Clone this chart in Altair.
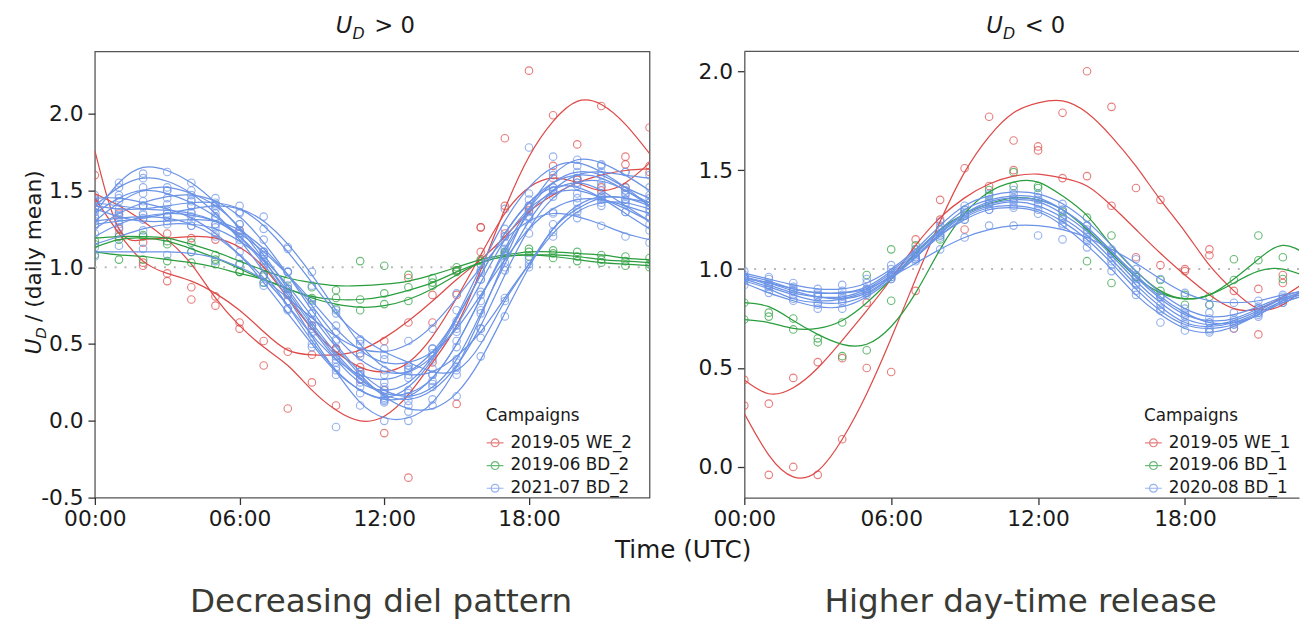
import altair as alt
import pandas as pd

FONT = "DejaVu Sans"
HOURS = list(range(24))

LEFT_CAMPAIGNS = ["2019-05 WE_2", "2019-06 BD_2", "2021-07 BD_2"]
RIGHT_CAMPAIGNS = ["2019-05 WE_1", "2019-06 BD_1", "2020-08 BD_1"]
CAMPAIGN_COLORS = ["#DD4A48", "#2A9E3E", "#6B93E6"]
REF_LEVEL = [1.0]

# ---------------- left panel (U_D > 0) ----------------
L_RED_A_FIT = [1.76,1.25,1.18,1.19,1.2,1.19,1.13,1.0,0.8,0.6,0.45,0.35,0.32,0.38,0.55,0.8,1.08,1.35,1.52,1.58,1.55,1.5,1.55,1.68]
L_RED_A_OBS = [1.60,1.20,1.16,1.22,1.19,1.18,1.24,0.95,0.82,0.62,0.47,0.35,0.2,0.93,0.64,0.82,1.26,1.40,1.37,1.66,1.57,1.52,1.67,1.62]
L_RED_B_FIT = [1.45,1.22,1.04,0.96,0.91,0.83,0.72,0.58,0.46,0.43,0.43,0.46,0.54,0.65,0.78,0.92,1.05,1.2,1.36,1.47,1.55,1.6,1.63,1.64]
L_RED_B_OBS = [1.42,1.25,1.03,0.96,0.87,0.81,0.64,0.52,0.45,0.43,0.47,0.44,0.52,0.64,0.82,0.98,1.1,1.22,1.39,1.58,1.57,1.5,1.52,1.66]
L_RED_C_FIT = [1.48,1.4,1.3,1.18,1.02,0.8,0.62,0.48,0.36,0.2,0.07,0.0,0.03,0.17,0.38,0.62,0.98,1.38,1.72,1.95,2.08,2.06,1.93,1.74]
L_RED_C_OBS = [1.45,1.35,1.01,0.91,0.79,0.75,0.60,0.36,0.08,0.25,0.1,0.27,-0.08,-0.37,0.38,0.11,1.26,1.84,2.28,1.99,1.80,2.05,1.72,1.91]

L_GREEN_A_FIT = [1.19,1.2,1.2,1.19,1.15,1.1,1.04,0.98,0.93,0.9,0.88,0.88,0.89,0.91,0.95,1.0,1.05,1.08,1.1,1.1,1.09,1.08,1.06,1.05]
L_GREEN_A_OBS = [1.17,1.18,1.21,1.17,1.16,1.08,1.02,0.95,0.92,0.87,0.85,1.04,1.01,0.95,0.93,1.0,1.04,1.1,1.12,1.11,1.1,1.08,1.07,1.06]
L_GREEN_B_FIT = [1.13,1.18,1.19,1.17,1.12,1.06,0.99,0.92,0.86,0.81,0.79,0.79,0.81,0.85,0.9,0.97,1.03,1.07,1.08,1.08,1.07,1.05,1.04,1.03]
L_GREEN_B_OBS = [1.15,1.2,1.2,1.15,1.1,1.05,0.97,0.94,0.86,0.8,0.8,0.79,0.83,0.87,0.9,0.98,1.05,1.09,1.1,1.09,1.07,1.05,1.04,1.02]
L_GREEN_C_FIT = [1.1,1.08,1.07,1.05,1.03,1.0,0.96,0.92,0.86,0.8,0.76,0.74,0.75,0.79,0.86,0.95,1.03,1.07,1.08,1.07,1.05,1.03,1.02,1.01]
L_GREEN_C_OBS = [1.08,1.05,1.05,1.04,1.03,1.02,0.97,0.9,0.83,0.79,0.73,0.72,0.76,0.78,0.88,0.97,1.02,1.08,1.07,1.06,1.04,1.03,1.01,1.0]

L_BLUE_01_FIT = [1.35,1.55,1.65,1.63,1.55,1.42,1.25,1.05,0.82,0.6,0.4,0.25,0.2,0.25,0.42,0.68,1.0,1.3,1.52,1.65,1.68,1.62,1.52,1.4]
L_BLUE_01_OBS = [1.38,1.52,1.61,1.62,1.55,1.38,1.28,1.08,0.78,0.62,0.35,0.27,0.2,0.3,0.4,0.72,0.98,1.38,1.78,1.72,1.66,1.67,1.48,1.42]
L_BLUE_02_FIT = [1.4,1.52,1.58,1.56,1.48,1.35,1.18,0.97,0.75,0.52,0.33,0.2,0.15,0.22,0.4,0.66,0.95,1.22,1.42,1.55,1.6,1.58,1.5,1.42]
L_BLUE_02_OBS = [1.42,1.55,1.58,1.52,1.5,1.33,1.2,1.0,0.73,0.5,0.3,0.22,0.13,0.2,0.42,0.62,0.92,1.25,1.48,1.6,1.58,1.55,1.52,1.45]
L_BLUE_03_FIT = [1.3,1.42,1.5,1.52,1.48,1.4,1.26,1.08,0.86,0.64,0.44,0.28,0.18,0.18,0.28,0.5,0.8,1.12,1.38,1.55,1.62,1.6,1.52,1.45]
L_BLUE_03_OBS = [1.32,1.45,1.52,1.5,1.47,1.42,1.28,1.1,0.88,0.66,0.42,0.25,0.18,0.16,0.3,0.48,0.82,1.1,1.4,1.52,1.62,1.62,1.5,1.47]
L_BLUE_04_FIT = [1.25,1.35,1.42,1.46,1.47,1.43,1.33,1.16,0.95,0.72,0.5,0.32,0.2,0.16,0.22,0.4,0.7,1.02,1.3,1.5,1.6,1.62,1.6,1.58]
L_BLUE_04_OBS = [1.27,1.33,1.4,1.45,1.44,1.45,1.35,1.18,0.97,0.7,0.52,0.3,0.22,0.13,0.24,0.38,0.72,1.0,1.33,1.48,1.58,1.6,1.62,1.6]
L_BLUE_05_FIT = [1.42,1.4,1.38,1.37,1.35,1.3,1.2,1.04,0.84,0.62,0.42,0.27,0.17,0.14,0.2,0.36,0.62,0.95,1.25,1.45,1.55,1.56,1.5,1.4]
L_BLUE_05_OBS = [1.44,1.38,1.4,1.35,1.36,1.28,1.22,1.02,0.86,0.6,0.4,0.3,0.15,0.1,0.22,0.35,0.6,0.98,1.22,1.46,1.55,1.53,1.5,1.38]
L_BLUE_06_FIT = [1.38,1.33,1.3,1.3,1.31,1.3,1.24,1.12,0.95,0.75,0.55,0.4,0.32,0.32,0.42,0.62,0.9,1.18,1.38,1.48,1.5,1.45,1.38,1.3]
L_BLUE_06_OBS = [1.36,1.3,1.32,1.28,1.3,1.32,1.22,1.1,0.97,0.78,0.53,0.42,0.3,0.34,0.44,0.6,0.92,1.2,1.36,1.5,1.48,1.46,1.36,1.32]
L_BLUE_07_FIT = [1.3,1.32,1.33,1.32,1.28,1.2,1.08,0.93,0.75,0.56,0.4,0.3,0.27,0.32,0.45,0.67,0.95,1.22,1.42,1.52,1.52,1.45,1.35,1.25]
L_BLUE_07_OBS = [1.28,1.34,1.31,1.33,1.27,1.22,1.06,0.95,0.73,0.58,0.38,0.32,0.25,0.33,0.47,0.65,0.97,1.2,1.44,1.5,1.53,1.44,1.36,1.24]
L_BLUE_08_FIT = [1.45,1.45,1.42,1.38,1.32,1.22,1.08,0.9,0.7,0.5,0.32,0.2,0.14,0.16,0.28,0.5,0.8,1.1,1.35,1.5,1.55,1.5,1.4,1.3]
L_BLUE_08_OBS = [1.47,1.43,1.43,1.37,1.33,1.2,1.1,0.88,0.72,0.48,0.33,0.18,0.12,0.18,0.26,0.52,0.78,1.12,1.33,1.52,1.55,1.48,1.42,1.28]
L_BLUE_09_FIT = [1.2,1.28,1.33,1.35,1.34,1.3,1.22,1.1,0.95,0.78,0.6,0.46,0.38,0.38,0.45,0.6,0.82,1.05,1.25,1.38,1.44,1.44,1.4,1.35]
L_BLUE_09_OBS = [1.22,1.26,1.35,1.33,1.35,1.28,1.24,1.08,0.97,0.76,0.62,0.44,0.4,0.36,0.47,0.58,0.84,1.03,1.27,1.36,1.45,1.42,1.41,1.33]
L_BLUE_10_FIT = [1.15,1.2,1.25,1.28,1.28,1.25,1.17,1.05,0.88,0.68,0.48,0.3,0.16,0.08,0.08,0.18,0.4,0.7,1.0,1.25,1.4,1.46,1.45,1.42]
L_BLUE_10_OBS = [1.13,1.22,1.24,1.3,1.27,1.26,1.15,1.07,0.86,0.7,0.46,0.32,0.14,0.06,0.1,0.16,0.42,0.68,1.02,1.23,1.42,1.45,1.47,1.4]
L_BLUE_11_FIT = [1.1,1.1,1.1,1.1,1.09,1.06,1.0,0.92,0.8,0.67,0.55,0.47,0.45,0.5,0.62,0.8,1.0,1.18,1.3,1.35,1.33,1.28,1.22,1.18]
L_BLUE_11_OBS = [1.07,1.14,1.12,1.08,1.1,1.04,1.02,0.9,0.82,0.65,0.58,0.5,0.43,0.52,0.6,0.83,1.02,1.16,1.32,1.35,1.32,1.27,1.2,1.16]
L_BLUE_12_FIT = [1.35,1.45,1.5,1.48,1.42,1.33,1.2,1.02,0.8,0.55,0.32,0.12,0.02,0.02,0.12,0.35,0.68,1.05,1.38,1.6,1.7,1.68,1.6,1.5]
L_BLUE_12_OBS = [1.33,1.47,1.48,1.5,1.4,1.35,1.18,1.04,0.78,0.57,-0.04,0.1,0.0,0.0,0.14,0.33,0.7,1.07,1.4,1.62,1.7,1.66,1.62,1.52]
L_BLUE_13_FIT = [1.28,1.3,1.32,1.35,1.38,1.4,1.38,1.3,1.15,0.95,0.72,0.5,0.35,0.3,0.32,0.42,0.58,0.8,1.02,1.22,1.36,1.42,1.42,1.38]
L_BLUE_13_OBS = [1.3,1.28,1.34,1.33,1.4,1.41,1.36,1.33,1.13,0.97,0.7,0.52,0.33,0.28,0.34,0.4,0.6,0.78,1.05,1.2,1.38,1.4,1.44,1.36]
L_BLUE_14_FIT = [1.4,1.38,1.38,1.4,1.42,1.42,1.38,1.27,1.1,0.9,0.7,0.55,0.45,0.38,0.32,0.33,0.5,0.78,1.02,1.25,1.38,1.45,1.45,1.4]
L_BLUE_14_OBS = [1.42,1.36,1.4,1.41,1.43,1.4,1.4,1.25,1.12,0.88,0.72,0.53,0.47,0.36,0.3,0.3,0.54,0.8,1.0,1.28,1.36,1.46,1.44,1.42]

# ---------------- right panel (U_D < 0) ----------------
R_RED_A_FIT = [0.27,0.06,-0.05,-0.02,0.14,0.37,0.65,0.95,1.24,1.49,1.67,1.79,1.84,1.85,1.79,1.67,1.52,1.35,1.19,1.02,0.89,0.8,0.82,0.92]
R_RED_A_OBS = [0.31,-0.04,0.0,-0.04,0.14,0.5,0.48,0.89,1.35,1.51,1.77,1.65,1.62,1.79,2.0,1.82,1.41,1.35,1.0,1.07,0.7,0.67,0.97,0.95]
R_RED_B_FIT = [0.44,0.37,0.4,0.5,0.64,0.79,0.95,1.12,1.26,1.36,1.43,1.47,1.48,1.46,1.42,1.32,1.2,1.08,0.97,0.87,0.8,0.8,0.86,0.94]
R_RED_B_OBS = [0.44,0.32,0.45,0.53,0.55,0.83,0.97,1.15,1.25,1.2,1.42,1.5,1.6,1.46,1.47,1.32,1.06,1.02,0.99,1.1,0.89,0.9,0.93,0.96]

R_GREEN_A_FIT = [0.83,0.81,0.74,0.67,0.62,0.62,0.71,0.88,1.1,1.28,1.39,1.44,1.44,1.37,1.27,1.12,0.99,0.89,0.85,0.87,0.95,1.05,1.12,1.07]
R_GREEN_A_OBS = [0.83,0.78,0.75,0.63,0.56,0.59,0.84,1.12,1.15,1.3,1.4,1.49,1.42,1.29,1.26,1.17,0.96,0.945,0.87,0.82,1.05,1.17,1.06,1.05]
R_GREEN_B_FIT = [0.745,0.73,0.7,0.7,0.74,0.83,0.95,1.08,1.2,1.28,1.33,1.36,1.35,1.3,1.2,1.08,0.96,0.88,0.85,0.87,0.93,0.99,1.0,0.96]
R_GREEN_B_OBS = [0.745,0.76,0.695,0.65,0.73,0.97,1.1,1.1,1.2,1.27,1.37,1.42,1.41,1.26,1.04,0.93,0.96,0.89,0.82,0.86,0.945,1.045,0.95,0.98]

R_BLUE_1_FIT = [0.98,0.95,0.92,0.9,0.9,0.93,1.0,1.1,1.22,1.32,1.37,1.39,1.38,1.33,1.24,1.12,0.99,0.88,0.8,0.76,0.77,0.81,0.86,0.9]
R_BLUE_1_OBS = [0.99,0.96,0.93,0.9,0.92,0.95,1.02,1.1,1.24,1.32,1.38,1.4,1.38,1.33,1.22,1.1,1.0,0.87,0.8,0.78,0.78,0.8,0.87,0.9]
R_BLUE_2_FIT = [0.97,0.94,0.9,0.88,0.88,0.91,0.99,1.09,1.2,1.3,1.35,1.37,1.36,1.3,1.21,1.09,0.96,0.85,0.77,0.74,0.75,0.8,0.85,0.89]
R_BLUE_2_OBS = [0.96,0.95,0.91,0.87,0.89,0.93,1.0,1.08,1.22,1.3,1.35,1.38,1.36,1.3,1.2,1.08,0.95,0.86,0.77,0.75,0.74,0.81,0.85,0.89]
R_BLUE_3_FIT = [0.96,0.92,0.88,0.86,0.86,0.9,0.98,1.08,1.19,1.28,1.33,1.35,1.34,1.28,1.19,1.07,0.94,0.83,0.75,0.72,0.74,0.79,0.85,0.89]
R_BLUE_3_OBS = [0.97,0.92,0.89,0.86,0.86,0.9,0.98,1.07,1.2,1.29,1.33,1.34,1.33,1.27,1.18,1.06,0.93,0.82,0.76,0.73,0.75,0.8,0.85,0.88]
R_BLUE_4_FIT = [0.95,0.91,0.87,0.84,0.85,0.89,0.97,1.07,1.18,1.27,1.32,1.34,1.32,1.26,1.17,1.05,0.92,0.81,0.73,0.71,0.73,0.78,0.84,0.88]
R_BLUE_4_OBS = [0.95,0.9,0.87,0.83,0.84,0.88,0.97,1.06,1.17,1.27,1.32,1.35,1.32,1.25,1.16,1.04,0.92,0.8,0.73,0.7,0.72,0.78,0.84,0.88]
R_BLUE_5_FIT = [0.94,0.9,0.85,0.83,0.83,0.87,0.96,1.06,1.17,1.26,1.31,1.32,1.3,1.24,1.15,1.03,0.9,0.79,0.72,0.7,0.72,0.77,0.83,0.87]
R_BLUE_5_OBS = [0.94,0.91,0.85,0.82,0.83,0.88,0.96,1.05,1.17,1.25,1.3,1.32,1.3,1.23,1.14,1.02,0.89,0.79,0.72,0.69,0.72,0.76,0.83,0.87]
R_BLUE_6_FIT = [0.93,0.88,0.84,0.81,0.81,0.86,0.95,1.06,1.17,1.25,1.3,1.31,1.29,1.22,1.12,1.0,0.87,0.77,0.7,0.68,0.71,0.77,0.83,0.87]
R_BLUE_6_OBS = [0.92,0.88,0.84,0.8,0.8,0.87,0.95,1.05,1.16,1.25,1.3,1.31,1.28,1.22,1.11,0.99,0.87,0.73,0.69,0.68,0.7,0.77,0.83,0.86]
R_BLUE_7_FIT = [0.95,0.93,0.9,0.88,0.88,0.9,0.96,1.03,1.1,1.16,1.2,1.22,1.22,1.2,1.16,1.1,1.03,0.95,0.88,0.84,0.83,0.84,0.87,0.89]
R_BLUE_7_OBS = [0.96,0.93,0.9,0.88,0.87,0.9,0.96,1.04,1.1,1.16,1.22,1.22,1.17,1.15,1.15,1.08,1.05,0.95,0.88,0.82,0.83,0.84,0.86,0.9]
R_BLUE_8_FIT = [0.96,0.93,0.89,0.86,0.85,0.88,0.96,1.06,1.18,1.28,1.34,1.36,1.35,1.3,1.21,1.09,0.97,0.86,0.78,0.73,0.73,0.77,0.84,0.88]
R_BLUE_8_OBS = [0.96,0.92,0.89,0.86,0.85,0.89,0.95,1.06,1.18,1.28,1.34,1.36,1.35,1.3,1.22,1.09,0.97,0.86,0.78,0.73,0.73,0.78,0.84,0.88]

# ---------------- texts ----------------
LEFT_TITLE = ["U", "D", "> 0"]
RIGHT_TITLE = ["U", "D", "< 0"]
Y_TITLE = ["U", "D", "/ (daily mean)"]
X_TITLE = ["Time (UTC)"]
CAPTIONS = ["Decreasing diel pattern", "Higher day-time release"]
LEGEND_TITLE = "Campaigns"

LEFT_SERIES = [
    (LEFT_CAMPAIGNS[0], L_RED_A_FIT, L_RED_A_OBS),
    (LEFT_CAMPAIGNS[0], L_RED_B_FIT, L_RED_B_OBS),
    (LEFT_CAMPAIGNS[0], L_RED_C_FIT, L_RED_C_OBS),
    (LEFT_CAMPAIGNS[1], L_GREEN_A_FIT, L_GREEN_A_OBS),
    (LEFT_CAMPAIGNS[1], L_GREEN_B_FIT, L_GREEN_B_OBS),
    (LEFT_CAMPAIGNS[1], L_GREEN_C_FIT, L_GREEN_C_OBS),
    (LEFT_CAMPAIGNS[2], L_BLUE_01_FIT, L_BLUE_01_OBS),
    (LEFT_CAMPAIGNS[2], L_BLUE_02_FIT, L_BLUE_02_OBS),
    (LEFT_CAMPAIGNS[2], L_BLUE_03_FIT, L_BLUE_03_OBS),
    (LEFT_CAMPAIGNS[2], L_BLUE_04_FIT, L_BLUE_04_OBS),
    (LEFT_CAMPAIGNS[2], L_BLUE_05_FIT, L_BLUE_05_OBS),
    (LEFT_CAMPAIGNS[2], L_BLUE_06_FIT, L_BLUE_06_OBS),
    (LEFT_CAMPAIGNS[2], L_BLUE_07_FIT, L_BLUE_07_OBS),
    (LEFT_CAMPAIGNS[2], L_BLUE_08_FIT, L_BLUE_08_OBS),
    (LEFT_CAMPAIGNS[2], L_BLUE_09_FIT, L_BLUE_09_OBS),
    (LEFT_CAMPAIGNS[2], L_BLUE_10_FIT, L_BLUE_10_OBS),
    (LEFT_CAMPAIGNS[2], L_BLUE_11_FIT, L_BLUE_11_OBS),
    (LEFT_CAMPAIGNS[2], L_BLUE_12_FIT, L_BLUE_12_OBS),
    (LEFT_CAMPAIGNS[2], L_BLUE_13_FIT, L_BLUE_13_OBS),
    (LEFT_CAMPAIGNS[2], L_BLUE_14_FIT, L_BLUE_14_OBS),
]
RIGHT_SERIES = [
    (RIGHT_CAMPAIGNS[0], R_RED_A_FIT, R_RED_A_OBS),
    (RIGHT_CAMPAIGNS[0], R_RED_B_FIT, R_RED_B_OBS),
    (RIGHT_CAMPAIGNS[1], R_GREEN_A_FIT, R_GREEN_A_OBS),
    (RIGHT_CAMPAIGNS[1], R_GREEN_B_FIT, R_GREEN_B_OBS),
    (RIGHT_CAMPAIGNS[2], R_BLUE_1_FIT, R_BLUE_1_OBS),
    (RIGHT_CAMPAIGNS[2], R_BLUE_2_FIT, R_BLUE_2_OBS),
    (RIGHT_CAMPAIGNS[2], R_BLUE_3_FIT, R_BLUE_3_OBS),
    (RIGHT_CAMPAIGNS[2], R_BLUE_4_FIT, R_BLUE_4_OBS),
    (RIGHT_CAMPAIGNS[2], R_BLUE_5_FIT, R_BLUE_5_OBS),
    (RIGHT_CAMPAIGNS[2], R_BLUE_6_FIT, R_BLUE_6_OBS),
    (RIGHT_CAMPAIGNS[2], R_BLUE_7_FIT, R_BLUE_7_OBS),
    (RIGHT_CAMPAIGNS[2], R_BLUE_8_FIT, R_BLUE_8_OBS),
]


def to_frame(series):
    rows = []
    for i, (camp, fit, obs) in enumerate(series):
        for h, f, o in zip(HOURS, fit, obs):
            rows.append({"curve": f"c{i:02d}", "campaign": camp, "hour": h, "fit": f, "obs": o})
    return pd.DataFrame(rows)


left_df = to_frame(LEFT_SERIES)
right_df = to_frame(RIGHT_SERIES)
ref_df = pd.DataFrame({"ref": REF_LEVEL})

INK = "#1a1a1a"
FRAME = "#555555"
LEGEND_SYMBOL = "M-1,0L1,0M0.47,0A0.47,0.47,0,1,1,-0.47,0A0.47,0.47,0,1,1,0.47,0"
X_LABELS = "(datum.value < 10 ? '0' : '') + datum.value + ':00'"
Y_LABELS = "replace(format(datum.value, '.1f'), '\u2212', '-')"


def text_layer(txt, x, y, size, angle=0, align="left", italic=False, color=INK):
    kw = dict(font=FONT, fontSize=size, align=align, baseline="alphabetic", color=color)
    if angle:
        kw["angle"] = angle
    if italic:
        kw["fontStyle"] = "italic"
    return alt.Chart(pd.DataFrame({"t": [txt]})).mark_text(**kw).encode(
        text="t:N", x=alt.value(x), y=alt.value(y)
    )


def panel(df, campaigns, xmax, ydom, yticks, legend_x, domain_lines, top_border, extra_texts):
    xscale = alt.Scale(domain=[0, xmax], nice=False, zero=False)
    yscale = alt.Scale(domain=ydom, nice=False, zero=False)
    xaxis = alt.Axis(values=[0, 6, 12, 18], labelExpr=X_LABELS, title=None, grid=False,
                     domain=domain_lines, domainColor=FRAME, domainWidth=1.3,
                     tickColor="#333333", tickSize=7, tickWidth=1.3,
                     labelFont=FONT, labelFontSize=22, labelColor=INK, labelPadding=4,
                     labelFlush=False, labelOverlap=False)
    yaxis = alt.Axis(values=yticks, labelExpr=Y_LABELS, title=None, grid=False,
                     domain=domain_lines, domainColor=FRAME, domainWidth=1.3,
                     tickColor="#333333", tickSize=7, tickWidth=1.3,
                     labelFont=FONT, labelFontSize=22, labelColor=INK, labelPadding=5,
                     labelFlush=False, labelOverlap=False)
    legend = alt.Legend(orient="none", legendX=legend_x, legendY=361, title=LEGEND_TITLE,
                        titleFont=FONT, titleFontSize=17, titleFontWeight="normal",
                        titleColor=INK, titlePadding=9,
                        labelFont=FONT, labelFontSize=17, labelColor=INK, labelOffset=6,
                        symbolType=LEGEND_SYMBOL, symbolSize=289, symbolStrokeWidth=1.2,
                        symbolFillColor="transparent", rowPadding=5)
    color = alt.Color("campaign:N", scale=alt.Scale(domain=campaigns, range=CAMPAIGN_COLORS),
                      legend=legend)

    ref = alt.Chart(ref_df).mark_rule(color="#b8b8b8", strokeWidth=2, strokeDash=[2, 8]).encode(
        y=alt.Y("ref:Q", scale=yscale, axis=yaxis)
    )
    pts = alt.Chart(df).mark_point(shape="circle", filled=False, size=58, strokeWidth=1.15,
                                   clip=True).encode(
        x=alt.X("hour:Q", scale=xscale, axis=xaxis),
        y=alt.Y("obs:Q", scale=yscale, axis=yaxis),
        color=color,
    )
    lines = alt.Chart(df).mark_line(interpolate="natural", strokeWidth=1.25, clip=True).encode(
        x=alt.X("hour:Q", scale=xscale, axis=xaxis),
        y=alt.Y("fit:Q", scale=yscale, axis=yaxis),
        color=color,
        detail="curve:N",
    )
    layers = [ref, pts, lines]
    if top_border:
        layers.append(
            alt.Chart(ref_df).mark_rule(color=FRAME, strokeWidth=1.3).encode(
                x=alt.datum(0), x2=alt.datum(xmax), y=alt.datum(ydom[1])
            )
        )
    return layers + extra_texts


W_LEFT, W_RIGHT, H = 562, 562, 452
RIGHT_XMAX = W_RIGHT / 24.8

left_texts = [
    text_layer(LEFT_TITLE[0], 261, -19, 23, align="right", italic=True),
    text_layer(LEFT_TITLE[1], 261, -13, 16, italic=True),
    text_layer(LEFT_TITLE[2], 283, -19, 23),
    text_layer(Y_TITLE[0], -55, 307, 22, angle=270, italic=True),
    text_layer(Y_TITLE[1], -49, 291, 15, angle=270, italic=True),
    text_layer(Y_TITLE[2], -55, 274, 22, angle=270),
    text_layer(X_TITLE[0], 596, 513, 25, align="center"),
    text_layer(CAPTIONS[0], 290, 568, 33, align="center", color="#3a3a35"),
]
right_texts = [
    text_layer(RIGHT_TITLE[0], 262, -19, 23, align="right", italic=True),
    text_layer(RIGHT_TITLE[1], 262, -13, 16, italic=True),
    text_layer(RIGHT_TITLE[2], 284, -19, 23),
    text_layer(CAPTIONS[1], 280, 568, 33, align="center", color="#3a3a35"),
]

left = alt.layer(*panel(left_df, LEFT_CAMPAIGNS, 23, [-0.5, 2.405], [-0.5, 0, 0.5, 1, 1.5, 2],
                        396, False, False, left_texts)).properties(
    width=W_LEFT, height=H, view=alt.ViewBackground(stroke=FRAME, strokeWidth=1.3))

right = alt.layer(*panel(right_df, RIGHT_CAMPAIGNS, RIGHT_XMAX, [-0.155, 2.1], [0, 0.5, 1, 1.5, 2],
                         405, True, True, right_texts)).properties(
    width=W_RIGHT, height=H, view=alt.ViewBackground(stroke="transparent"))

chart = alt.hconcat(left, right, spacing=96, bounds="flush").resolve_scale(
    color="independent", x="independent", y="independent"
).properties(
    padding={"left": 14, "top": 2, "right": 0, "bottom": 0}, background="white"
).configure_view(stroke=None)

chart.save("out.html", embed_options={"renderer": "svg", "actions": False})
